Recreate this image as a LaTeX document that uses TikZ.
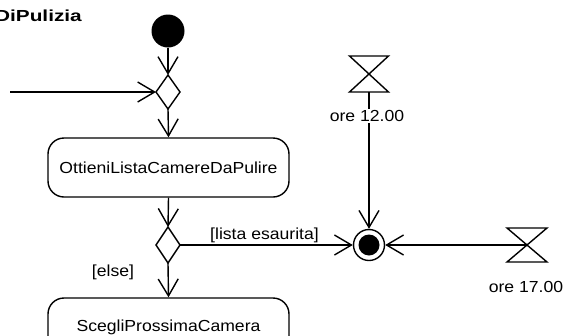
\documentclass[tikz,border=0pt]{standalone}
\usepackage{fontspec}
\setmainfont{Liberation Sans}
\newfontfamily\lblfont[FakeStretch=1.1]{Liberation Sans}
\newfontfamily\ttlfont[FakeStretch=1.3]{Liberation Sans}
\usetikzlibrary{arrows.meta}
\begin{document}
\begin{tikzpicture}[x=1pt,y=-1pt,
  ln/.style={line width=1.4pt},
  flow/.style={ln,-{Straight Barb[length=17pt,width=20pt,line width=1.4pt]}},
  action/.style={draw,ln,rounded corners=16pt,minimum width=241pt,minimum height=59pt,inner sep=0pt,font=\lblfont\fontsize{16}{19}\selectfont},
  lbl/.style={inner sep=1pt,font=\lblfont\fontsize{16}{19}\selectfont},
  box/.style={inner sep=0pt,outer sep=0pt,minimum width=#1}]
\useasboundingbox (0,0) rectangle (565,335);
% title
\node[anchor=base east,inner sep=0pt,font=\ttlfont\bfseries\fontsize{16}{19}\selectfont] (title) at (82,21) {DiPulizia};
% initial node
\node[circle,fill=black,minimum size=33pt,inner sep=0pt] (init) at (168,31) {};
% decision 1
\node[box=24pt,minimum height=34pt] (d1) at (168,92) {};
\draw[ln] (d1.north) -- (d1.east) -- (d1.south) -- (d1.west) -- cycle;
\coordinate (inL) at (10,92);
% action 1
\node[action] (a1) at (168.5,167.5) {OttieniListaCamereDaPulire};
% decision 2
\node[box=24pt,minimum height=36pt] (d2) at (168,245) {};
\draw[ln] (d2.north) -- (d2.east) -- (d2.south) -- (d2.west) -- cycle;
% action 2
\node[action] (a2) at (168.5,327.5) {ScegliProssimaCamera};
% final node
\node[circle,draw,ln,minimum size=31pt,inner sep=0pt] (fin) at (369,245) {};
\node[circle,fill=black,minimum size=21pt,inner sep=0pt] (finin) at (369,245) {};
% time events
\node[box=39pt,minimum height=36pt] (hg1) at (369,74) {};
\draw[ln] (hg1.north west) -- (hg1.north east) -- (hg1.south west) -- (hg1.south east) -- cycle;
\node[box=40pt,minimum height=34pt] (hg2) at (527,245) {};
\draw[ln] (hg2.north west) -- (hg2.north east) -- (hg2.south west) -- (hg2.south east) -- cycle;
% flows
\draw[flow] (init) -- (d1.north);
\draw[flow] (inL) -- (d1.west);
\draw[flow] (d1.south) -- (a1.north);
\draw[flow] (a1.south) -- (d2.north);
\draw[flow] (d2.south) -- (a2.north);
\draw[flow] (d2.east) -- (fin.west);
\draw[flow] (hg1.south) -- (fin.north);
\draw[flow] (hg2.center) -- (fin.east);
% labels
\node[lbl,fill=white] (l12) at (367,116) {ore 12.00};
\node[lbl] (l17) at (526,287) {ore 17.00};
\node[lbl,anchor=west] (lista) at (209,235) {[lista esaurita]};
\node[lbl] (else) at (113,272) {[else]};
\end{tikzpicture}
\end{document}
